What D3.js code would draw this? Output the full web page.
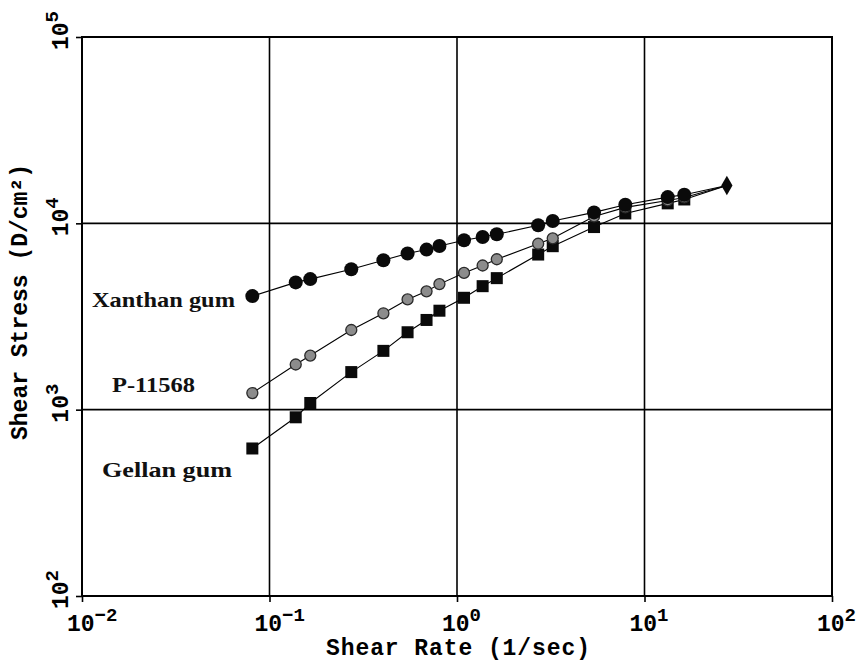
<!DOCTYPE html>
<html>
<head>
<meta charset="utf-8">
<script src="https://cdn.jsdelivr.net/npm/d3@7"></script>
<style>
	body { margin: 0; background: #fff; }
	svg { display: block; }
	.mono { font-family: "Liberation Mono", "DejaVu Sans Mono", monospace; font-weight: bold; fill: #000; }
	.serif { font-family: "Liberation Serif", "DejaVu Serif", serif; font-weight: bold; fill: #111; }
</style>
</head>
<body>
<script>
'use strict';

// shear rate (1/sec), shared by the three samples
const shearRate = [0.081, 0.138, 0.165, 0.273, 0.405, 0.545, 0.688, 0.806, 1.09, 1.37, 1.63, 2.71, 3.24, 5.38, 7.9, 13.3, 16.3, 27.5];

// shear stress (D/cm2)
const xanthan = [4070, 4820, 5020, 5675, 6340, 6890, 7230, 7560, 8110, 8450, 8730, 9760, 10290, 11450, 12590, 13830, 14230, 15970];
const p11568 = [1228, 1747, 1951, 2677, 3290, 3906, 4315, 4718, 5420, 5940, 6415, 7770, 8310, 10890, 12180, 13270, 13770, 15970];
const gellan = [619, 910, 1086, 1591, 2068, 2603, 3030, 3397, 3985, 4600, 5080, 6800, 7540, 9550, 11300, 12800, 13430, 15970];

const xTicks = [1e-2, 1e-1, 1e0, 1e1, 1e2];
const yTicks = [1e2, 1e3, 1e4, 1e5];

const seriesNames = ["Xanthan gum", "P-11568", "Gellan gum"];

const W = 866, H = 664;
const margin = {left: 82, top: 37, right: 34, bottom: 68};
const width = W - margin.left - margin.right;
const height = H - margin.top - margin.bottom;

const svg = d3.select("body").append("svg")
	.attr("width", W)
	.attr("height", H);

const g = svg.append("g")
	.attr("transform", "translate(" + margin.left + "," + margin.top + ")");

const x = d3.scaleLog().domain([1e-2, 1e2]).range([0, width]);
const y = d3.scaleLog().domain([1e2, 1e5]).range([height, 0]);

// grid lines at each decade
g.append("g")
	.selectAll("line.vgrid")
	.data(xTicks.slice(1, -1))
	.enter().append("line")
	.attr("x1", d => x(d)).attr("x2", d => x(d))
	.attr("y1", 0).attr("y2", height)
	.attr("stroke", "#000").attr("stroke-width", 1.6);

g.append("g")
	.selectAll("line.hgrid")
	.data(yTicks.slice(1, -1))
	.enter().append("line")
	.attr("x1", 0).attr("x2", width)
	.attr("y1", d => y(d)).attr("y2", d => y(d))
	.attr("stroke", "#000").attr("stroke-width", 1.6);

// axes with small outward ticks, labels added by hand
let xAxis = g.append("g")
	.attr("transform", "translate(0," + height + ")")
	.call(d3.axisBottom(x).tickValues(xTicks).tickSize(6).tickSizeOuter(0).tickFormat(""));
let yAxis = g.append("g")
	.call(d3.axisLeft(y).tickValues(yTicks).tickSize(6).tickSizeOuter(0).tickFormat(""));
[xAxis, yAxis].forEach(a => {
	a.selectAll("line").attr("stroke", "#000").attr("stroke-width", 1.6);
	a.select(".domain").remove();
});

// frame
g.append("rect")
	.attr("width", width).attr("height", height)
	.attr("fill", "none").attr("stroke", "#000").attr("stroke-width", 2);

function expOf(d){ return Math.round(Math.log10(d)); }

xTicks.forEach(function(d){
	let t = g.append("text")
		.attr("class", "mono")
		.attr("x", x(d) - 15)
		.attr("y", height + 35)
		.style("font-size", "23px");
	t.append("tspan").text("10");
	t.append("tspan")
		.attr("dy", -10)
		.style("font-size", "19px")
		.text(expOf(d) < 0 ? "\u2212" + Math.abs(expOf(d)) : expOf(d));
});

yTicks.forEach(function(d){
	let t = g.append("text")
		.attr("class", "mono")
		.attr("transform", "translate(" + (-14) + "," + (y(d) + 13) + ") rotate(-90)")
		.style("font-size", "23px");
	t.append("tspan").text("10");
	t.append("tspan")
		.attr("dy", -10)
		.style("font-size", "19px")
		.text(expOf(d));
});

// axis titles
svg.append("text")
	.attr("class", "mono")
	.attr("x", margin.left + x(1) + 1)
	.attr("y", 655)
	.attr("text-anchor", "middle")
	.style("font-size", "23px")
	.attr("textLength", 264)
	.text("Shear Rate (1/sec)");

svg.append("text")
	.attr("class", "mono")
	.attr("transform", "translate(27,302) rotate(-90)")
	.attr("text-anchor", "middle")
	.style("font-size", "23px")
	.attr("textLength", 276)
	.text("Shear Stress (D/cm\u00b2)");

// series lines and markers
const line = d3.line()
	.x(d => x(d[0]))
	.y(d => y(d[1]));

const series = [xanthan, p11568, gellan].map(vals => shearRate.map((r, i) => [r, vals[i]]));

series.forEach(function(pts){
	g.append("path")
		.datum(pts)
		.attr("d", line)
		.attr("fill", "none")
		.attr("stroke", "#000")
		.attr("stroke-width", 1.1);
});

// gellan gum: black squares
g.selectAll(".sq")
	.data(series[2].slice(0, -1))
	.enter().append("rect")
	.attr("x", d => x(d[0]) - 6)
	.attr("y", d => y(d[1]) - 6)
	.attr("width", 12).attr("height", 12)
	.attr("fill", "#0a0a0a");

// P-11568: grey circles
g.selectAll(".gc")
	.data(series[1].slice(0, -1))
	.enter().append("circle")
	.attr("cx", d => x(d[0]))
	.attr("cy", d => y(d[1]))
	.attr("r", 5.5)
	.attr("fill", "#8c8c8c")
	.attr("stroke", "#2a2a2a")
	.attr("stroke-width", 1.3);

// xanthan gum: black circles
g.selectAll(".bc")
	.data(series[0].slice(0, -1))
	.enter().append("circle")
	.attr("cx", d => x(d[0]))
	.attr("cy", d => y(d[1]))
	.attr("r", 7)
	.attr("fill", "#0a0a0a");

// shared end point: diamond
let last = series[0][series[0].length - 1];
g.append("path")
	.attr("d", d3.symbol().type(d3.symbolDiamond).size(110))
	.attr("transform", "translate(" + x(last[0]) + "," + y(last[1]) + ")")
	.attr("fill", "#0a0a0a");

// series labels
const labelPos = [[92, 307, 143], [112, 392, 83], [102, 477, 130]];
seriesNames.forEach(function(name, i){
	svg.append("text")
		.attr("class", "serif")
		.attr("x", labelPos[i][0])
		.attr("y", labelPos[i][1])
		.attr("textLength", labelPos[i][2])
		.attr("lengthAdjust", "spacingAndGlyphs")
		.style("font-size", "21px")
		.text(name);
});
</script>
</body>
</html>
